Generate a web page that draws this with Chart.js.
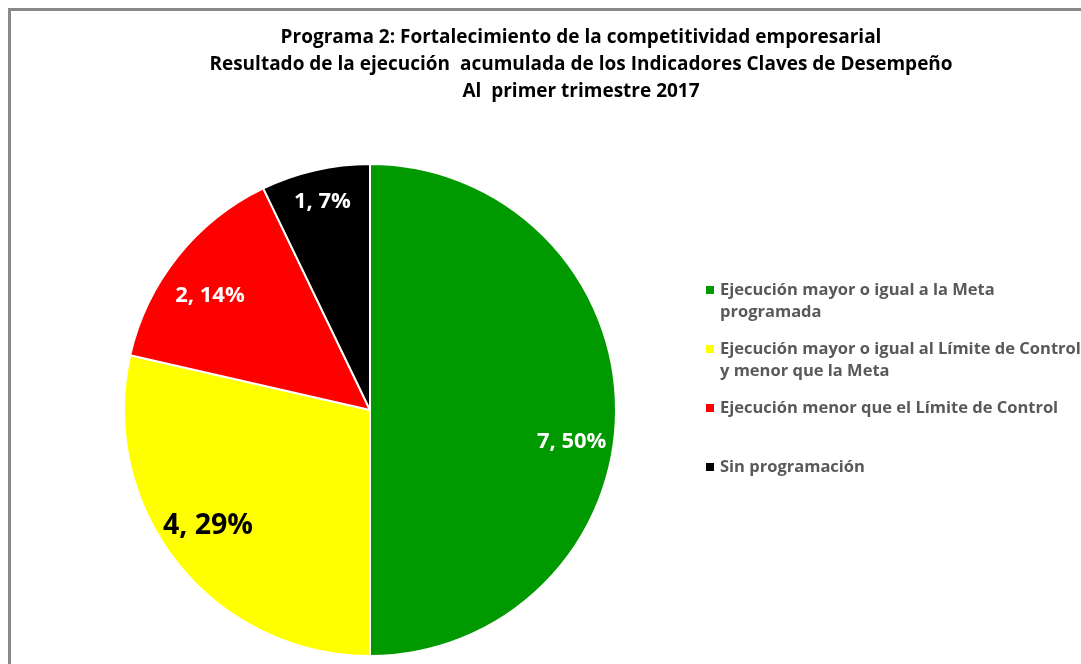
<!DOCTYPE html>
<html>
<head>
<meta charset="utf-8">
<script src="https://cdn.jsdelivr.net/npm/chart.js@4.4.1/dist/chart.umd.min.js"></script>
<style>
    body{margin:0;width:1081px;height:664px;overflow:hidden;background:#fff;position:relative}
    #frame{position:absolute;left:8px;top:8px;width:1200px;height:800px;border:3px solid #898989;background:#fff}
    #wrap{position:absolute;left:0;top:0;width:1081px;height:664px}
</style>
</head>
<body>
<div id="frame"></div>
<div id="wrap"><canvas id="kpiChart" width="1081" height="664"></canvas></div>
<script>
const titleLines = [
    "Programa 2: Fortalecimiento de la competitividad emporesarial",
    "Resultado de la ejecución  acumulada de los Indicadores Claves de Desempeño",
    "Al  primer trimestre 2017"
];
const categories = [
    ["Ejecución mayor o igual a la Meta", "programada"],
    ["Ejecución mayor o igual al Límite de Control", "y menor que la Meta"],
    ["Ejecución menor que el Límite de Control"],
    ["Sin programación"]
];
const values = [7, 4, 2, 1];
const sliceColors = ["#009900", "#ffff00", "#ff0000", "#000000"];
const labelColors = ["#ffffff", "#000000", "#ffffff", "#ffffff"];

// label look, per slice: font size, distance from centre (share of radius), angle tweak (deg)
const labelSizes = [22, 28.5, 22, 22];
const labelDist = [0.83, 0.81, 0.80, 0.87];
const labelTurn = [9, 3, -3, 0];

const total = values.reduce((a, b) => a + b, 0);

const pieExtras = {
    id: "pieExtras",
    afterDraw(chart){
        const ctx = chart.ctx;
        ctx.save();

        // title
        ctx.fillStyle = "#000";
        ctx.font = "bold 19px 'Open Sans'";
        ctx.textAlign = "center";
        ctx.textBaseline = "middle";
        titleLines.forEach((line, i) => {
            ctx.fillText(line, 581, 38 + i * 27);
        });

        // value labels
        const arcs = chart.getDatasetMeta(0).data;
        arcs.forEach((arc, i) => {
            const p = arc.getProps(["x", "y", "startAngle", "endAngle", "outerRadius"], true);
            const mid = (p.startAngle + p.endAngle) / 2 + labelTurn[i] * Math.PI / 180;
            const r = p.outerRadius * labelDist[i];
            const pct = Math.round(values[i] / total * 100);
            ctx.font = "bold " + labelSizes[i] + "px 'Open Sans'";
            ctx.fillStyle = labelColors[i];
            ctx.fillText(values[i] + ", " + pct + "%", p.x + Math.cos(mid) * r, p.y + Math.sin(mid) * r);
        });

        // legend
        ctx.textAlign = "left";
        ctx.font = "bold 16.5px 'Open Sans'";
        categories.forEach((lines, i) => {
            const y = 290 + i * 59;
            ctx.fillStyle = sliceColors[i];
            ctx.fillRect(706, y - 4, 8, 8);
            ctx.fillStyle = "#595959";
            lines.forEach((t, j) => ctx.fillText(t, 720, y + j * 22));
        });

        ctx.restore();
    }
};

new Chart("kpiChart", {
    type: "pie",
    data: {
        labels: categories.map(c => c.join(" ")),
        datasets: [{
            data: values,
            backgroundColor: sliceColors,
            borderColor: "#ffffff",
            borderWidth: 2
        }]
    },
    options: {
        responsive: false,
        animation: false,
        layout: {
            padding: {left: 123, top: 163, right: 464, bottom: 7}
        },
        plugins: {
            legend: {display: false},
            title: {display: false},
            tooltip: {enabled: false}
        }
    },
    plugins: [pieExtras]
});
</script>
</body>
</html>
